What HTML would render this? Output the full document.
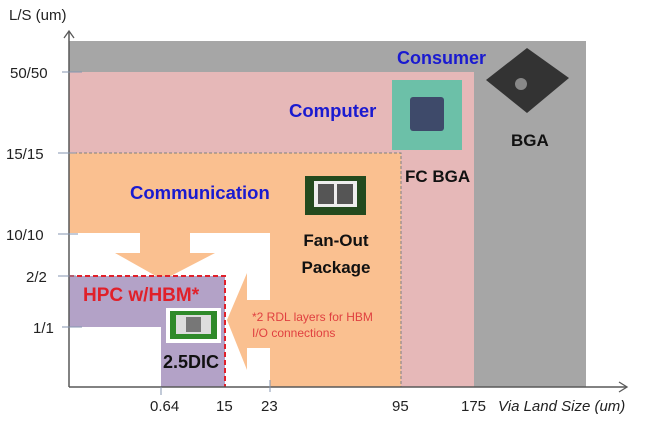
<!DOCTYPE html>
<html><head><meta charset="utf-8"><style>
body{margin:0;background:#fff;width:650px;height:425px;overflow:hidden}
svg text{font-family:"Liberation Sans",sans-serif}
</style></head><body>
<svg width="650" height="425" viewBox="0 0 650 425">
<rect x="69" y="41" width="517" height="346" fill="#a6a6a6"/>
<rect x="69" y="72" width="405" height="315" fill="#e6b8b8"/>
<rect x="69" y="153" width="332" height="234" fill="#fac090"/>
<rect x="69" y="233" width="201" height="154" fill="#fff"/>
<polygon points="140,233 190,233 190,253 215,253 163,280 115,253 140,253" fill="#fac090"/>
<polygon points="270,300 247,300 247,273 227,320 247,370 247,348 270,348" fill="#fac090"/>
<rect x="69" y="276" width="156" height="111" fill="#b3a2c7"/>
<rect x="69" y="327" width="92" height="60" fill="#fff"/>
<path d="M69 276 H225 V387" fill="none" stroke="#e0202a" stroke-width="2" stroke-dasharray="5,3"/>
<path d="M69 153 H401 V387" fill="none" stroke="#7f7f7f" stroke-width="1" stroke-dasharray="3,2"/>
<line x1="69" y1="387" x2="69" y2="32" stroke="#595959" stroke-width="1.5"/>
<path d="M64 38 L69 31 L74 38" fill="none" stroke="#595959" stroke-width="1.3"/>
<line x1="69" y1="387" x2="626" y2="387" stroke="#595959" stroke-width="1.5"/>
<path d="M619 382 L627 387 L619 392" fill="none" stroke="#595959" stroke-width="1.3"/>
<g stroke="#8496b0" stroke-width="1">
<line x1="62" y1="72" x2="82" y2="72"/><line x1="58" y1="153" x2="76" y2="153"/>
<line x1="58" y1="234" x2="78" y2="234"/><line x1="58" y1="276" x2="76" y2="276"/>
<line x1="62" y1="327" x2="82" y2="327"/>
<line x1="161" y1="387" x2="161" y2="395"/><line x1="270" y1="380" x2="270" y2="392"/>
</g>
<g font-size="15" fill="#222">
<text x="9" y="20">L/S (um)</text>
<text x="10" y="78">50/50</text><text x="6" y="159">15/15</text>
<text x="6" y="240">10/10</text><text x="26" y="282">2/2</text><text x="33" y="333">1/1</text>
<text x="150" y="411">0.64</text><text x="216" y="411">15</text><text x="261" y="411">23</text>
<text x="392" y="411">95</text><text x="461" y="411">175</text>
<text x="498" y="411" font-style="italic">Via Land Size (um)</text>
</g>
<g font-weight="bold" fill="#1a1ad0">
<text x="397" y="64" font-size="18">Consumer</text><text x="289" y="117" font-size="18.5">Computer</text><text x="130" y="199" font-size="18.5">Communication</text>
</g>
<g font-size="17" font-weight="bold" fill="#111">
<text x="405" y="182">FC BGA</text><text x="511" y="146">BGA</text>
<text x="336" y="246" text-anchor="middle">Fan-Out</text><text x="336" y="273" text-anchor="middle">Package</text>
<text x="163" y="368" font-size="18">2.5DIC</text>
</g>
<text x="83" y="301" font-size="19" font-weight="bold" fill="#e0202a">HPC w/HBM*</text>
<text x="252" y="321" font-size="12" fill="#e04040">*2 RDL layers for HBM</text>
<text x="252" y="337" font-size="12" fill="#e04040">I/O connections</text>
<rect x="392" y="80" width="70" height="70" fill="#6cc0a8"/>
<rect x="410" y="97" width="34" height="34" rx="3" fill="#3e4a6a"/>
<polygon points="527,48 569,78 527,113 486,80" fill="#333"/>
<circle cx="521" cy="84" r="6" fill="#888"/>
<rect x="305" y="176" width="61" height="39" fill="#234a1e"/>
<rect x="314" y="181" width="43" height="26" fill="#eee"/>
<rect x="318" y="184" width="16" height="20" fill="#555"/><rect x="337" y="184" width="16" height="20" fill="#555"/>
<rect x="166" y="308" width="55" height="35" fill="#fff"/>
<rect x="170" y="311" width="47" height="28" fill="#2f8a2a"/>
<rect x="176" y="315" width="35" height="19" fill="#ddd"/>
<rect x="186" y="317" width="15" height="15" fill="#777"/>
</svg>
</body></html>
